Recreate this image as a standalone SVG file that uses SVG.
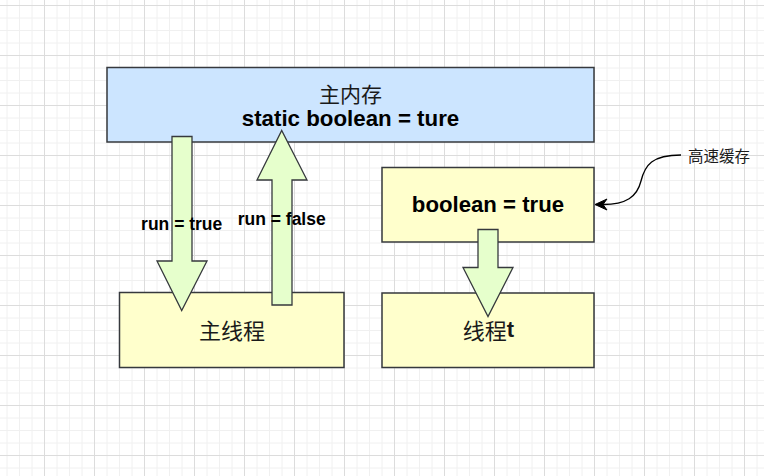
<svg xmlns="http://www.w3.org/2000/svg" width="764" height="476" viewBox="0 0 764 476">
<defs>
<pattern id="grid" patternUnits="userSpaceOnUse" x="-6" y="5" width="50" height="50">
<path d="M13,0V50M25.5,0V50M38,0V50M0,13H50M0,25.5H50M0,38H50" stroke="#f0f0f0" stroke-width="1" fill="none"/>
<path d="M0.5,0V50M0,0.5H50" stroke="#dcdcdc" stroke-width="1" fill="none"/>
</pattern>
<style>
.box{stroke:#36393d;stroke-width:1.5}
.blue{fill:#cce5ff}
.yellow{fill:#ffffcc}
.arrow{fill:#e6ffcc;stroke:#36393d;stroke-width:1.3;stroke-linejoin:miter}
.lat{font-family:"Liberation Sans",Arial,sans-serif;font-weight:bold;fill:#000;text-anchor:middle}
.cjk{font-family:"Noto Sans CJK SC",sans-serif;fill:#1a1a1a;text-anchor:middle}
</style>
</defs>
<rect width="764" height="476" fill="#ffffff"/>
<rect width="764" height="476" fill="url(#grid)"/>

<g id="main-memory">
<rect class="box blue" x="107" y="67.5" width="487" height="74.5"/>
<text class="cjk" x="350.5" y="93" font-size="21" dominant-baseline="central">主内存</text>
<text class="lat" x="350.5" y="125.5" font-size="22.3">static boolean = ture</text>
</g>

<g id="main-thread">
<rect class="box yellow" x="119.5" y="292.5" width="224.5" height="75"/>
<text class="cjk" x="232" y="329" font-size="22" dominant-baseline="central">主线程</text>
</g>

<g id="cache">
<rect class="box yellow" x="382" y="167.5" width="212" height="74.5"/>
<text class="lat" x="488" y="211.5" font-size="22.2">boolean = true</text>
</g>

<g id="thread-t">
<rect class="box yellow" x="382" y="293" width="212" height="74.5"/>
<text x="488.5" y="329" font-size="22" dominant-baseline="central" text-anchor="middle"><tspan class="cjk">线程</tspan><tspan font-family="Liberation Sans, Arial, sans-serif" font-weight="bold" fill="#1a1a1a">t</tspan></text>
</g>

<g id="connectors">
<path class="arrow" d="M172,136.5H192V261H207L181.7,310.5L157,261H172Z"/>
<path class="arrow" d="M272,305H292V180H307L281.7,130.5L257,180H272Z"/>
<path class="arrow" d="M478,229.5H498V267.5H513L488,316.5L463,267.5H478Z"/>
<path d="M681,155C652,155 645,165 641,181C637,197 626,204.5 603,204.5" fill="none" stroke="#000" stroke-width="1.3"/>
<path d="M595,204.5L607,199L603,204.5L607,210Z" fill="#000" stroke="#000" stroke-width="1"/>
<text class="lat" x="181.7" y="230" font-size="17.5">run = true</text>
<text class="lat" x="281.7" y="224.5" font-size="17.5">run = false</text>
<text class="cjk" x="719" y="155" font-size="15.5" dominant-baseline="central" fill="#000">高速缓存</text>
</g>
</svg>
